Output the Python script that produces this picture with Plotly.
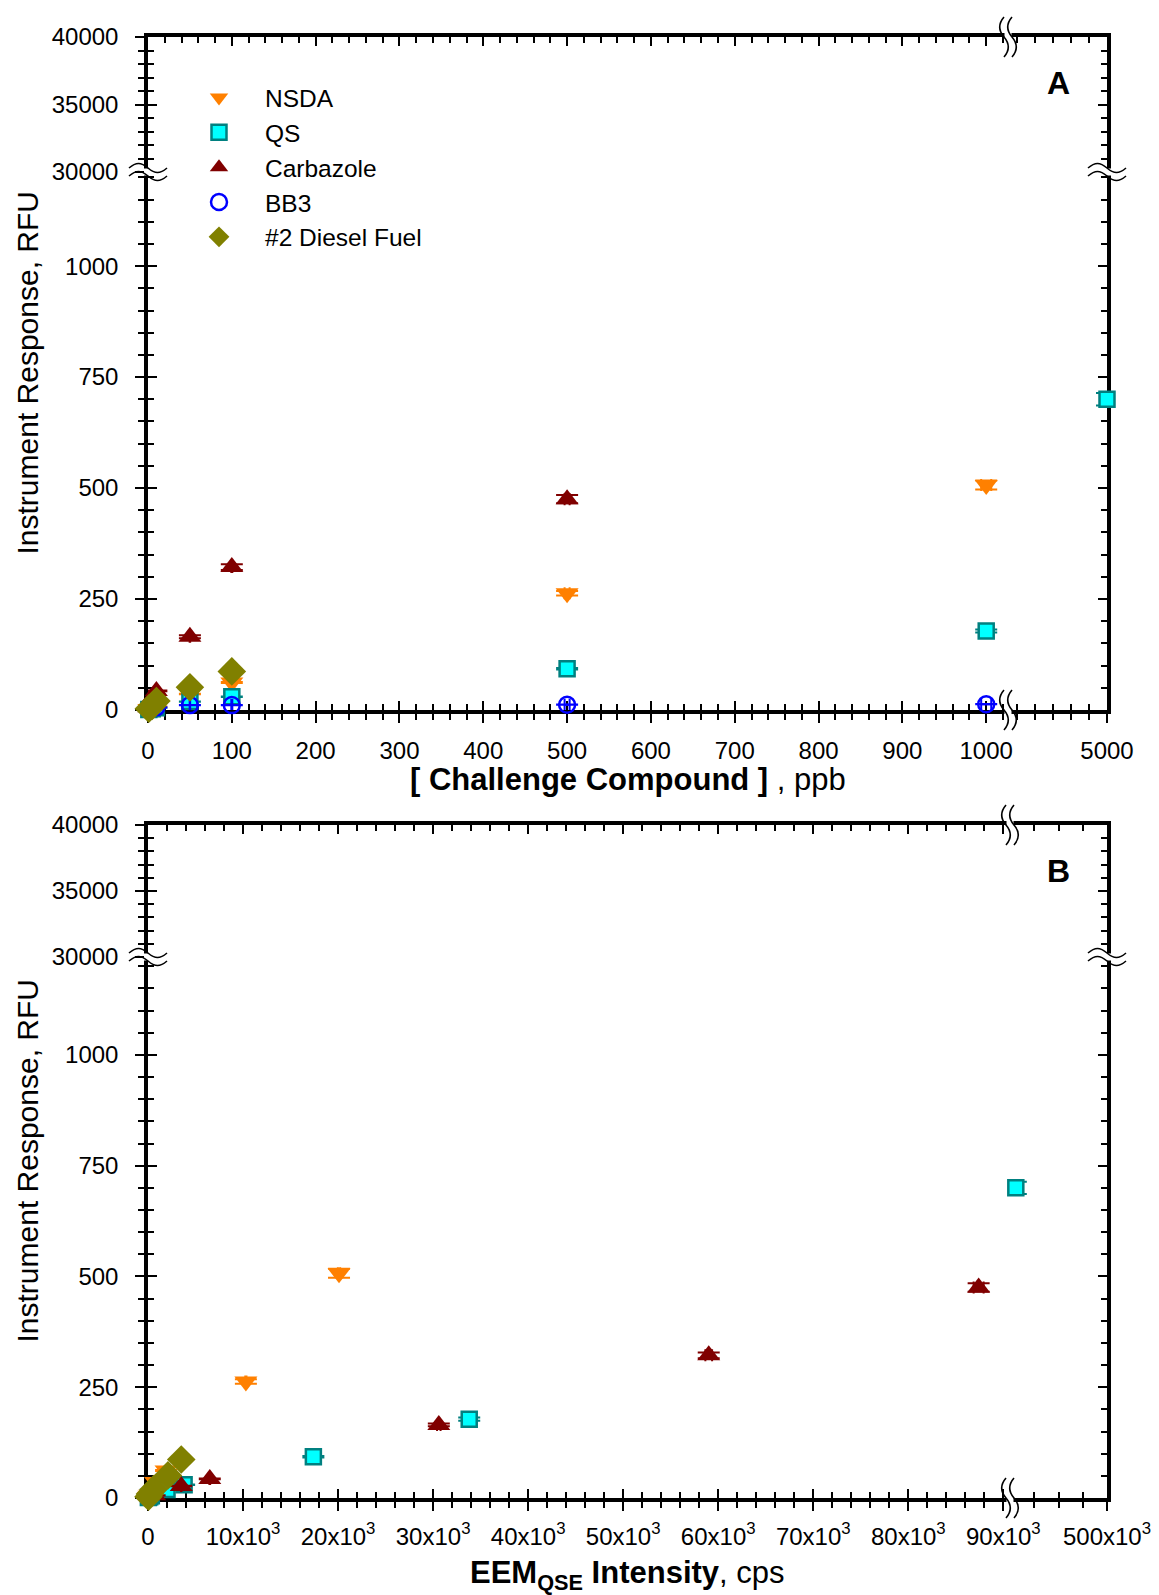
import numpy as np
import plotly.graph_objects as go

# ---------------- data ----------------
# Panel A: x = concentration (ppb), y = instrument response (RFU)
# Panel B: x = EEM QSE intensity (cps), y = instrument response (RFU)
nsda_ppb = [1, 5, 10, 50, 100, 500, 1000]
nsda_rfu = [2, 5, 8, 36, 62, 263, 507]
nsda_eem = [30, 100, 200, 800, 1900, 10300, 20100]

qs_ppb = [1, 5, 10, 50, 100, 500, 1000, 5000]
qs_rfu = [1, 3, 5, 19, 30, 93, 178, 700]
qs_eem = [40, 180, 350, 2000, 3800, 17400, 33800, 406000]

carb_ppb = [1, 5, 10, 50, 100, 500]
carb_rfu = [6, 27, 43, 165, 322, 475]
carb_eem = [700, 3500, 6500, 30600, 59000, 87400]

bb3_ppb = [1, 10, 50, 100, 500, 1000]
bb3_rfu = [4, 6, 11, 11, 12, 13]
bb3_eem = [10, 40, 150, 250, 350, 450]

dsl_ppb = [1, 5, 10, 50, 100]
dsl_rfu = [3, 9, 20, 51, 87]
dsl_eem = [50, 200, 600, 2100, 3500]

series = [
    ("NSDA", nsda_ppb, nsda_eem, nsda_rfu,
     dict(symbol="triangle-down", size=20, color="#FF8000", line=dict(width=0))),
    ("QS", qs_ppb, qs_eem, qs_rfu,
     dict(symbol="square", size=15, color="#00FFFF", line=dict(width=2.5, color="#008080"))),
    ("Carbazole", carb_ppb, carb_eem, carb_rfu,
     dict(symbol="triangle-up", size=20, color="#800000", line=dict(width=0))),
    ("BB3", bb3_ppb, bb3_eem, bb3_rfu,
     dict(symbol="circle-open", size=16, color="#0000FF", line=dict(width=2.5))),
    ("#2 Diesel Fuel", dsl_ppb, dsl_eem, dsl_rfu,
     dict(symbol="diamond", size=22, color="#808000", line=dict(width=0))),
]
err_color = {"NSDA": "#FF8000", "QS": "#008080", "Carbazole": "#800000",
             "BB3": "#0000FF", "#2 Diesel Fuel": "#808000"}

# ---------------- geometry (pixels) ----------------
W, H = 1159, 1595
FONT = "Arial, 'Liberation Sans', sans-serif"


def fx(x):
    return x / W


def fy(y):
    return 1 - y / H


# left / break / right x pixel, bottom / break / top y pixel for each panel
PANELS = {
    "A": dict(xl=148, xb=1008, xr=1107, y0=710, yb=172, yt=37, standoff=7,
              xmain=[0, 1026], xright=[4450, 5000], ylow=[0, 1212]),
    "B": dict(xl=148, xb=1010, xr=1107, y0=1498, yb=957, yt=825, standoff=5,
              xmain=[0, 90700], xright=[400000, 500000], ylow=[0, 1221]),
}
YUP = [30000, 40000]

LW = 3.5
MAJ, MIN = 9, 6


def base_axis(**kw):
    d = dict(showgrid=False, zeroline=False, showline=True, linecolor="black",
             linewidth=LW, tickcolor="black", tickwidth=2, layer="below traces",
             fixedrange=True, automargin=False,
             tickfont=dict(family=FONT, size=24, color="black"))
    d.update(kw)
    return d


layout = dict(width=W, height=H, margin=dict(l=0, r=0, t=0, b=0, pad=0, autoexpand=False),
              paper_bgcolor="white", plot_bgcolor="rgba(0,0,0,0)",
              font=dict(family=FONT, color="black"), showlegend=True)

fig = go.Figure()
frame_pairs = []   # axis pairs that only carry frame lines / ticks


def build_panel(name, n0):
    g = PANELS[name]
    key = lambda n: "xaxis" if n == 1 else f"xaxis{n}"
    ykey = lambda n: "yaxis" if n == 1 else f"yaxis{n}"
    ref = lambda n: "" if n == 1 else str(n)
    xs = {k: key(n0 + k) for k in range(6)}
    ys = {k: ykey(n0 + k) for k in range(6)}
    xid = {k: "x" + ref(n0 + k) for k in range(6)}
    yid = {k: "y" + ref(n0 + k) for k in range(6)}

    dmain = [fx(g["xl"]), fx(g["xb"])]
    dright = [fx(g["xb"]), fx(g["xr"])]
    dlow = [fy(g["y0"]), fy(g["yb"])]
    dup = [fy(g["yb"]), fy(g["yt"])]
    so = g["standoff"]

    if name == "A":
        main_ticks = dict(tickmode="linear", tick0=0, dtick=100)
        main_minor = dict(tickmode="linear", tick0=0, dtick=20)
        right_ticks = dict(tickmode="array", tickvals=[5000], ticktext=["5000"])
        right_minor = dict(tickmode="array", tickvals=list(range(4500, 5000, 100)))
    else:
        vals = list(range(0, 90001, 10000))
        txt = ["0"] + [f"{v // 1000}x10<sup>3</sup>" for v in vals[1:]]
        main_ticks = dict(tickmode="array", tickvals=vals, ticktext=txt)
        main_minor = dict(tickmode="linear", tick0=0, dtick=2000)
        right_ticks = dict(tickmode="array", tickvals=[500000], ticktext=["500x10<sup>3</sup>"])
        right_minor = dict(tickmode="array", tickvals=[425000, 450000, 475000])

    low_ticks = dict(tickmode="linear", tick0=0, dtick=250)
    low_minor = dict(tickmode="linear", tick0=0, dtick=50)
    up_ticks = dict(tickmode="linear", tick0=0, dtick=5000, tickformat="d")
    up_minor = dict(tickmode="linear", tick0=0, dtick=1000)

    def mn(m, d):
        return dict(m, ticks=d, ticklen=MIN, tickwidth=2, tickcolor="black")

    # x axes: 0 main-bottom-out, 1 right-bottom-out, 2 main-bottom-in,
    #         3 right-bottom-in, 4 main-top-in, 5 right-top-in
    layout[xs[0]] = base_axis(domain=dmain, range=g["xmain"], anchor=yid[0],
                              ticks="outside", ticklen=MAJ, minor=mn(main_minor, "outside"),
                              ticklabelstandoff=so, **main_ticks)
    layout[xs[1]] = base_axis(domain=dright, range=g["xright"], anchor=yid[0],
                              ticks="outside", ticklen=MAJ, minor=mn(right_minor, "outside"),
                              ticklabelstandoff=so, **right_ticks)
    layout[xs[2]] = base_axis(overlaying=xid[0], range=g["xmain"], anchor=yid[0],
                              ticks="inside", ticklen=MAJ, minor=mn(main_minor, "inside"),
                              showticklabels=False, **main_ticks)
    layout[xs[3]] = base_axis(overlaying=xid[1], range=g["xright"], anchor=yid[0],
                              ticks="inside", ticklen=MAJ, minor=mn(right_minor, "inside"),
                              showticklabels=False, **right_ticks)
    layout[xs[4]] = base_axis(overlaying=xid[0], range=g["xmain"], anchor=yid[1], side="top",
                              ticks="inside", ticklen=MAJ, minor=mn(main_minor, "inside"),
                              showticklabels=False, **main_ticks)
    layout[xs[5]] = base_axis(overlaying=xid[1], range=g["xright"], anchor=yid[1], side="top",
                              ticks="inside", ticklen=MAJ, minor=mn(right_minor, "inside"),
                              showticklabels=False, **right_ticks)

    # y axes: 0 low-left-out, 1 up-left-out, 2 low-left-in, 3 up-left-in,
    #         4 low-right-in, 5 up-right-in
    layout[ys[0]] = base_axis(domain=dlow, range=g["ylow"], anchor=xid[0],
                              ticks="outside", ticklen=MAJ, minor=mn(low_minor, "outside"),
                              ticklabelstandoff=12, **low_ticks)
    layout[ys[1]] = base_axis(domain=dup, range=YUP, anchor=xid[0],
                              ticks="outside", ticklen=MAJ, minor=mn(up_minor, "outside"),
                              ticklabelstandoff=12, **up_ticks)
    layout[ys[2]] = base_axis(overlaying=yid[0], range=g["ylow"], anchor=xid[0],
                              ticks="inside", ticklen=MAJ, minor=mn(low_minor, "inside"),
                              showticklabels=False, **low_ticks)
    layout[ys[3]] = base_axis(overlaying=yid[1], range=YUP, anchor=xid[0],
                              ticks="inside", ticklen=MAJ, minor=mn(up_minor, "inside"),
                              showticklabels=False, **up_ticks)
    layout[ys[4]] = base_axis(overlaying=yid[0], range=g["ylow"], anchor=xid[1], side="right",
                              ticks="inside", ticklen=MAJ, minor=mn(low_minor, "inside"),
                              showticklabels=False, **low_ticks)
    layout[ys[5]] = base_axis(overlaying=yid[1], range=YUP, anchor=xid[1], side="right",
                              ticks="inside", ticklen=MAJ, minor=mn(up_minor, "inside"),
                              showticklabels=False, **up_ticks)

    frame_pairs.extend([
        (xid[2], yid[0]), (xid[3], yid[0]), (xid[4], yid[1]), (xid[5], yid[1]),
        (xid[0], yid[1]), (xid[0], yid[2]), (xid[0], yid[3]),
        (xid[1], yid[4]), (xid[1], yid[5]),
    ])
    return xid, yid, g


xa, ya, ga = build_panel("A", 1)
xb, yb, gb = build_panel("B", 7)

# empty traces so that every frame axis pair gets rendered
for xx, yy in frame_pairs:
    fig.add_trace(go.Scatter(x=[None], y=[None], mode="markers", showlegend=False,
                             hoverinfo="skip", marker=dict(opacity=0), xaxis=xx, yaxis=yy))

for name, ppb, eem, rfu, mk in series:
    for panel, xv, xid, yid, g, legend in (("A", ppb, xa, ya, ga, True),
                                            ("B", eem, xb, yb, gb, False)):
        xv = np.asarray(xv, float)
        yv = np.asarray(rfu, float)
        split = g["xmain"][1]
        for seg, mask, xax in (("main", xv <= split, xid[0]), ("right", xv > split, xid[1])):
            if not mask.any():
                continue
            fig.add_trace(go.Scatter(
                x=xv[mask], y=yv[mask], mode="markers", name=name,
                marker=mk, cliponaxis=False,
                showlegend=legend and seg == "main",
                error_y=dict(type="percent", value=2, color=err_color[name],
                             thickness=2, width=11),
                error_x=dict(type="percent", value=0.6, color=err_color[name],
                             thickness=2, width=6),
                xaxis=xax, yaxis=yid[0]))

# ---------------- axis-break glyphs ----------------
shapes = []


def P(x, y):
    return f"{fx(x):.5f},{fy(y):.5f}"


def ybreak(cx, cy):
    # white gap in the vertical axis line, then two tilde strokes
    shapes.append(dict(type="rect", xref="paper", yref="paper",
                       x0=fx(cx - 4), x1=fx(cx + 4), y0=fy(cy + 3.5), y1=fy(cy - 3.5),
                       fillcolor="white", line=dict(width=0), layer="above"))
    for dy in (-4, 4):
        y = cy + dy
        x0 = cx - 19
        path = (f"M {P(x0, y)} C {P(x0 + 7, y - 6)} {P(x0 + 12, y - 6)} {P(x0 + 19, y)} "
                f"C {P(x0 + 26, y + 6)} {P(x0 + 31, y + 6)} {P(x0 + 38, y)}")
        shapes.append(dict(type="path", xref="paper", yref="paper", path=path,
                           line=dict(color="black", width=1.6), layer="above"))


def xbreak(cx, cy):
    shapes.append(dict(type="rect", xref="paper", yref="paper",
                       x0=fx(cx - 3.5), x1=fx(cx + 3.5), y0=fy(cy + 4), y1=fy(cy - 4),
                       fillcolor="white", line=dict(width=0), layer="above"))
    for dx in (-4, 4):
        x = cx + dx
        y0 = cy - 20
        path = (f"M {P(x, y0)} C {P(x - 6, y0 + 7)} {P(x - 6, y0 + 13)} {P(x, y0 + 20)} "
                f"C {P(x + 6, y0 + 27)} {P(x + 6, y0 + 33)} {P(x, y0 + 40)}")
        shapes.append(dict(type="path", xref="paper", yref="paper", path=path,
                           line=dict(color="black", width=1.6), layer="above"))


for g in (ga, gb):
    ybreak(g["xl"], g["yb"])
    ybreak(g["xr"], g["yb"])
    xbreak(g["xb"], g["y0"])
    xbreak(g["xb"], g["yt"])

layout["shapes"] = shapes

# ---------------- titles and panel letters ----------------
ann = []
for g, letter, xtitle, dy in (
        (ga, "A", "<b>[ Challenge Compound ]</b> , ppb", 69),
        (gb, "B", "<b>EEM<sub>QSE</sub> Intensity</b>, cps", 77)):
    ann.append(dict(text="Instrument Response, RFU", xref="paper", yref="paper",
                    x=fx(27), y=fy((g["y0"] + g["yt"]) / 2), textangle=-90,
                    showarrow=False, font=dict(size=30), xanchor="center", yanchor="middle"))
    ann.append(dict(text=xtitle, xref="paper", yref="paper",
                    x=fx((g["xl"] + g["xr"]) / 2), y=fy(g["y0"] + dy), showarrow=False,
                    font=dict(size=31), xanchor="center", yanchor="middle"))
    ann.append(dict(text=f"<b>{letter}</b>", xref="paper", yref="paper",
                    x=fx(1058), y=fy(g["yt"] + 46), showarrow=False,
                    font=dict(size=32), xanchor="center", yanchor="middle"))
layout["annotations"] = ann

layout["legend"] = dict(x=fx(173), y=fy(75), xanchor="left", yanchor="top",
                        font=dict(size=24.5, family=FONT), bgcolor="rgba(0,0,0,0)",
                        borderwidth=0, tracegroupgap=0, itemwidth=82)

fig.update_layout(**layout)
fig.write_html("out.html")
